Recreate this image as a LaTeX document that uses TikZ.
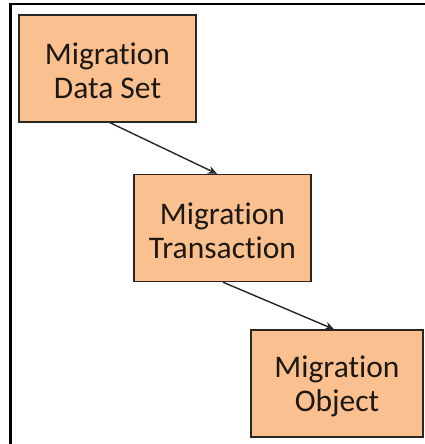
\documentclass[tikz,border=0pt]{standalone}
\usepackage{fontspec}
\setmainfont{Carlito}[RawFeature={-liga;-clig;-calt;-dlig}]
\usetikzlibrary{arrows.meta}
\definecolor{boxfill}{HTML}{FAC090}
\definecolor{boxline}{HTML}{2A2622}
\definecolor{txt}{HTML}{1E1814}
\newcommand\MigWord{Migrat\kern0pt ion}
\begin{document}
\begin{tikzpicture}[x=1pt,y=-1pt,
  mbox/.style={draw=boxline, line width=1.4pt, fill=boxfill,
    minimum width=177pt, minimum height=107pt, inner sep=0pt},
  lbl/.style={text=txt, align=center, inner sep=0pt, yshift=-2.5pt,
    font=\fontsize{31.5}{34}\selectfont},
  conn/.style={draw=black!85, line width=1.4pt, -{Stealth[length=9pt,width=8pt]}},
  frame/.style={draw=black, line width=2.5pt}]
\useasboundingbox (0,0) rectangle (425,444);
\coordinate (fa) at (10.5,444);
\coordinate (fb) at (10.5,4);
\coordinate (fc) at (425,4);
\draw[frame] (fa) -- (fb) -- (fc);
\node[mbox, label={[lbl]center:{\MigWord\\Data Set}}] (b1) at (107.5,68.5) {};
\node[mbox, label={[lbl]center:{\MigWord\\Transact\kern0pt ion}}] (b2) at (222.5,228) {};
\node[mbox, minimum width=172pt, label={[lbl]center:{\MigWord\\Object}}] (b3) at (337,383.5) {};
\draw[conn] ([xshift=2.5pt]b1.south) -- ([xshift=-5.5pt]b2.north);
\draw[conn] ([xshift=0.5pt]b2.south) -- ([xshift=-3pt]b3.north);
\end{tikzpicture}
\end{document}
